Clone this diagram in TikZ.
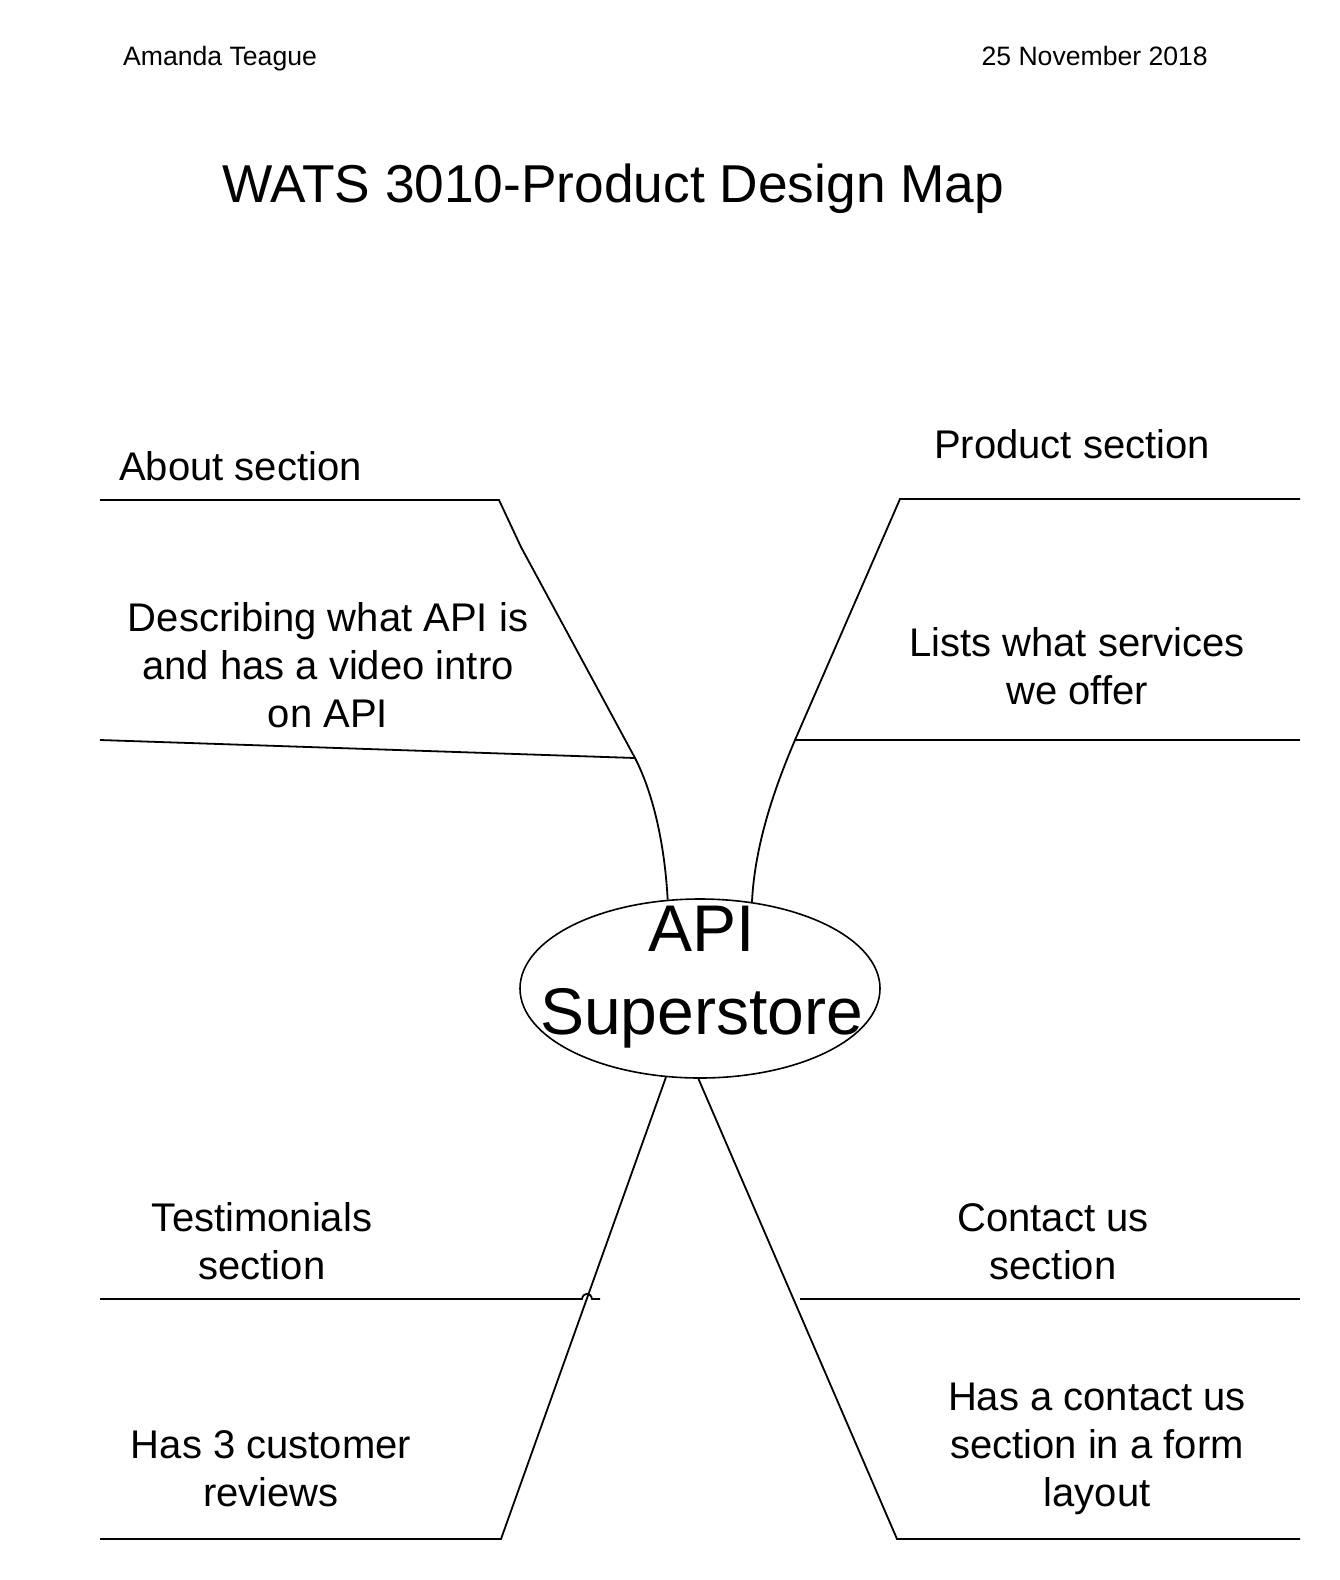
\documentclass[tikz,border=0pt]{standalone}
\usepackage{fontspec}
\setmainfont{Liberation Sans}
\usetikzlibrary{shapes.geometric}
\begin{document}
\begin{tikzpicture}[x=1pt,y=-1pt,
  wire/.style={line width=1.8pt,line join=miter},
  hdr/.style={inner sep=0pt,font=\fontsize{26.6}{31}\selectfont},
  ttl/.style={inner sep=0pt,font=\fontsize{53.3}{63}\selectfont},
  lbl/.style={inner sep=0pt,align=center,font=\fontsize{40}{48}\selectfont},
  hubtxt/.style={inner sep=0pt,align=center,font=\fontsize{66}{83}\selectfont},
  hubshape/.style={ellipse,draw,line width=1.6pt,inner sep=0pt,minimum width=360pt,minimum height=179pt}]
\fill[white] (0,0) rectangle (1340,1580);
\useasboundingbox (0,0) rectangle (1340,1580);

% header and title
\node[hdr,anchor=base west] (author) at (123,65) {Amanda Teague};
\node[hdr,anchor=base east] (date) at (1208,65) {25 November 2018};
\node[ttl,anchor=base west] (title) at (222,202) {WATS 3010-Product Design Map};

% central hub
\node[hubshape] (hub) at (700,988.5) {};
\node[hubtxt] (hubtext) at (701.5,977) {API\\Superstore};

% labels
\node[lbl,anchor=base west] (about) at (119,480) {About section};
\node[lbl] (aboutd) at (328,665) {Describing what API is\\and has a video intro\\on API};
\node[lbl,anchor=base west] (product) at (934,458) {Product section};
\node[lbl] (productd) at (1077,666.5) {Lists what services\\we offer};
\node[lbl] (testi) at (262,1241) {Testimonials\\section};
\node[lbl] (testid) at (271,1468.5) {Has 3 customer\\reviews};
\node[lbl] (contact) at (1053,1242) {Contact us\\section};
\node[lbl] (contactd) at (1097,1449) {Has a contact us\\section in a form\\layout};

% coordinates
\coordinate (tl0) at (100,500);
\coordinate (tlA) at (499,500);
\coordinate (tlB) at (521,547);
\coordinate (tlC) at (635,758);
\coordinate (tl1) at (100,740);

\coordinate (tr0) at (1300,499);
\coordinate (trA) at (900,499);
\coordinate (trC) at (795,740);
\coordinate (tr1) at (1300,740);

\coordinate (bl0) at (100,1539);
\coordinate (blA) at (501,1539);
\coordinate (bl1) at (100,1299);
\coordinate (blh1) at (582,1299);
\coordinate (blh2) at (592,1299);
\coordinate (bl2) at (600,1299);

\coordinate (br0) at (1300,1539);
\coordinate (brA) at (897,1539);
\coordinate (br1) at (800,1299);
\coordinate (br2) at (1300,1299);

% connectors
\draw[wire] (tl0) -- (tlA) -- (tlB) -- (tlC) .. controls (655,797) and (665,850) .. (hub.110);
\draw[wire] (tl1) -- (tlC);
\draw[wire] (tr0) -- (trA) -- (trC) .. controls (778,780) and (755,840) .. (hub.59);
\draw[wire] (trC) -- (tr1);
\draw[wire] (hub.249) -- (blA) -- (bl0);
\draw[wire] (bl1) -- (blh1) .. controls (583,1292) and (591,1292) .. (blh2) -- (bl2);
\draw[wire] (hub.269) -- (brA) -- (br0);
\draw[wire] (br1) -- (br2);
\end{tikzpicture}
\end{document}
